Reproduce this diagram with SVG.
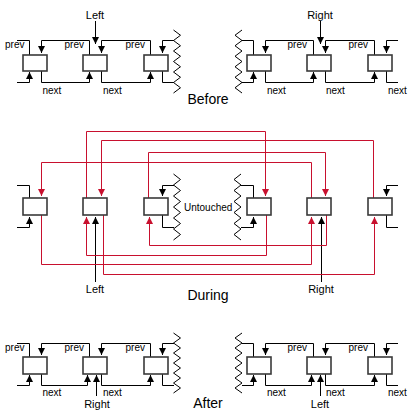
<svg xmlns="http://www.w3.org/2000/svg" width="410" height="418" viewBox="0 0 410 418">
<defs>
<style>
.box{fill:#fff;stroke:#3a3a3a;stroke-width:1.6}
.ln{fill:none;stroke:#000;stroke-width:1}
.rd{fill:none;stroke:#c8102e;stroke-width:1}
.zz{fill:none;stroke:#000;stroke-width:1}
.ab{marker-end:url(#ah)}
.ar{marker-end:url(#ahr)}
text{font-family:"Liberation Sans",Arial,Helvetica,sans-serif;fill:#000}
.sm{font-size:10px}
.md{font-size:11px}
.lg{font-size:14px}
.e{text-anchor:end}
.m{text-anchor:middle}
</style>
<marker id="ah" markerUnits="userSpaceOnUse" viewBox="0 0 7 7" markerWidth="7" markerHeight="7" refX="7" refY="3.5" orient="auto"><path d="M0,0L7,3.5L0,7z" fill="#000"/></marker>
<marker id="ahr" markerUnits="userSpaceOnUse" viewBox="0 0 7 7" markerWidth="7" markerHeight="7" refX="7" refY="3.5" orient="auto"><path d="M0,0L7,3.5L0,7z" fill="#c8102e"/></marker>
</defs>

<g id="connectors">
<!-- Before, left -->
<path class="ln" d="M17,40.5H29.5V55"/>
<path class="ln ab" d="M89.5,55V40.5H41.5V53"/>
<path class="ln ab" d="M150.5,55V40.5H101.5V53"/>
<path class="ln ab" d="M174,40.5H162.5V53"/>
<path class="ln ab" d="M17,82.5H29.5V72"/>
<path class="ln ab" d="M41.5,71V82.5H89.5V72"/>
<path class="ln ab" d="M101.5,71V82.5H150.5V72"/>
<path class="ln" d="M162.5,71V82.5H174"/>
<path class="ln ab" d="M95.5,21V44"/>
<!-- Before, right -->
<path class="ln" d="M242,40.5H253.5V55"/>
<path class="ln ab" d="M313.5,55V40.5H265.5V53"/>
<path class="ln ab" d="M374.5,55V40.5H325.5V53"/>
<path class="ln ab" d="M398,40.5H386.5V53"/>
<path class="ln ab" d="M242,82.5H253.5V72"/>
<path class="ln ab" d="M265.5,71V82.5H313.5V72"/>
<path class="ln ab" d="M325.5,71V82.5H374.5V72"/>
<path class="ln" d="M386.5,71V82.5H398"/>
<path class="ln ab" d="M320.5,21V44"/>
<!-- During, black -->
<path class="ln" d="M17,185.5H29.5V198"/>
<path class="ln ab" d="M17,227.5H29.5V217"/>
<path class="ln ab" d="M174,185.5H162.5V196"/>
<path class="ln" d="M162.5,215V227.5H174"/>
<path class="ln" d="M241,185.5H253.5V198"/>
<path class="ln ab" d="M241,227.5H253.5V217"/>
<path class="ln ab" d="M398,185.5H386.5V196"/>
<path class="ln" d="M386.5,215V227.5H398"/>
<path class="ln ab" d="M95.5,282V217"/>
<path class="ln ab" d="M321.5,282V217"/>
<!-- During, red -->
<path class="rd ar" d="M86.5,198V131.5H265.5V196"/>
<path class="rd ar" d="M373.5,198V140.5H101.5V196"/>
<path class="rd ar" d="M148.5,198V152.5H325.5V196"/>
<path class="rd ar" d="M311.5,198V162.5H41.5V196"/>
<path class="rd ar" d="M326.5,215V245.5H149.5V217"/>
<path class="rd ar" d="M266.5,215V255.5H86.5V217"/>
<path class="rd ar" d="M41.5,215V264.5H311.5V217"/>
<path class="rd ar" d="M103.5,215V274.5H374.5V217"/>
<!-- After, left -->
<path class="ln" d="M17,343.5H29.5V357"/>
<path class="ln ab" d="M89.5,357V343.5H41.5V355"/>
<path class="ln ab" d="M150.5,357V343.5H101.5V355"/>
<path class="ln ab" d="M174,343.5H162.5V355"/>
<path class="ln ab" d="M17,385.5H29.5V375"/>
<path class="ln ab" d="M41.5,374V385.5H87.5V375"/>
<path class="ln ab" d="M101.5,374V385.5H150.5V375"/>
<path class="ln" d="M162.5,374V385.5H174"/>
<path class="ln ab" d="M96.5,396V375"/>
<!-- After, right -->
<path class="ln" d="M242,343.5H253.5V357"/>
<path class="ln ab" d="M313.5,357V343.5H265.5V355"/>
<path class="ln ab" d="M374.5,357V343.5H325.5V355"/>
<path class="ln ab" d="M398,343.5H386.5V355"/>
<path class="ln ab" d="M242,385.5H253.5V375"/>
<path class="ln ab" d="M265.5,374V385.5H311.5V375"/>
<path class="ln ab" d="M325.5,374V385.5H374.5V375"/>
<path class="ln" d="M386.5,374V385.5H398"/>
<path class="ln ab" d="M320.5,396V375"/>
</g>

<g id="breaks">
<polyline class="zz" points="173.5,30 180.5,35.25 173.5,40.5 180.5,45.75 173.5,51 180.5,56.25 173.5,61.5 180.5,66.75 173.5,72 180.5,77.25 173.5,82.5 180.5,87.75 173.5,93"/>
<polyline class="zz" points="242,30 235,35.25 242,40.5 235,45.75 242,51 235,56.25 242,61.5 235,66.75 242,72 235,77.25 242,82.5 235,87.75 242,93"/>
<polyline class="zz" points="173.5,174 180.5,179.5 173.5,185 180.5,190.5 173.5,196 180.5,201.5 173.5,207 180.5,212.5 173.5,218 180.5,223.5 173.5,229 180.5,234.5 173.5,240"/>
<polyline class="zz" points="241,174 234,179.5 241,185 234,190.5 241,196 234,201.5 241,207 234,212.5 241,218 234,223.5 241,229 234,234.5 241,240"/>
<polyline class="zz" points="173.5,333 180.5,338 173.5,343 180.5,348 173.5,353 180.5,358 173.5,363 180.5,368 173.5,373 180.5,378 173.5,383 180.5,388 173.5,393"/>
<polyline class="zz" points="242,333 235,338 242,343 235,348 242,353 235,358 242,363 235,368 242,373 235,378 242,383 235,388 242,393"/>
</g>

<g id="before-n1"><rect class="box" x="23" y="55" width="24" height="16"/></g>
<g id="before-n2"><rect class="box" x="83" y="55" width="24" height="16"/></g>
<g id="before-n3"><rect class="box" x="144" y="55" width="24" height="16"/></g>
<g id="before-n4"><rect class="box" x="247" y="55" width="24" height="16"/></g>
<g id="before-n5"><rect class="box" x="307" y="55" width="24" height="16"/></g>
<g id="before-n6"><rect class="box" x="368" y="55" width="24" height="16"/></g>

<g id="during-n1"><rect class="box" x="23" y="198" width="24" height="17"/></g>
<g id="during-n2"><rect class="box" x="83" y="198" width="24" height="17"/></g>
<g id="during-n3"><rect class="box" x="144" y="198" width="24" height="17"/></g>
<g id="during-n4"><rect class="box" x="247" y="198" width="24" height="17"/></g>
<g id="during-n5"><rect class="box" x="307" y="198" width="24" height="17"/></g>
<g id="during-n6"><rect class="box" x="368" y="198" width="24" height="17"/></g>

<g id="after-n1"><rect class="box" x="23" y="357" width="24" height="17"/></g>
<g id="after-n2"><rect class="box" x="83" y="357" width="24" height="17"/></g>
<g id="after-n3"><rect class="box" x="144" y="357" width="24" height="17"/></g>
<g id="after-n4"><rect class="box" x="247" y="357" width="24" height="17"/></g>
<g id="after-n5"><rect class="box" x="307" y="357" width="24" height="17"/></g>
<g id="after-n6"><rect class="box" x="368" y="357" width="24" height="17"/></g>

<g id="labels">
<text class="md m" x="95" y="18.5">Left</text>
<text class="md m" x="320" y="18.5">Right</text>
<text class="sm e" x="24.5" y="48">prev</text>
<text class="sm e" x="84" y="48">prev</text>
<text class="sm e" x="145" y="48">prev</text>
<text class="sm e" x="307" y="48">prev</text>
<text class="sm e" x="368" y="48">prev</text>
<text class="sm" x="42.5" y="93.5">next</text>
<text class="sm" x="103" y="93.5">next</text>
<text class="sm" x="267" y="93.5">next</text>
<text class="sm" x="326" y="93.5">next</text>
<text class="sm" x="388" y="93.5">next</text>
<text class="lg m" x="208" y="103.5">Before</text>

<text class="sm" x="184" y="210.5">Untouched</text>
<text class="md m" x="95" y="293">Left</text>
<text class="md m" x="321" y="293">Right</text>
<text class="lg m" x="208" y="300">During</text>

<text class="sm e" x="24.5" y="351">prev</text>
<text class="sm e" x="84" y="351">prev</text>
<text class="sm e" x="145" y="351">prev</text>
<text class="sm e" x="307" y="351">prev</text>
<text class="sm e" x="368" y="351">prev</text>
<text class="sm" x="42.5" y="396">next</text>
<text class="sm" x="103" y="396">next</text>
<text class="sm" x="267" y="396">next</text>
<text class="sm" x="326" y="396">next</text>
<text class="sm" x="388" y="396">next</text>
<text class="md m" x="97" y="407.5">Right</text>
<text class="md m" x="320" y="407.5">Left</text>
<text class="lg m" x="208" y="408">After</text>
</g>
</svg>
